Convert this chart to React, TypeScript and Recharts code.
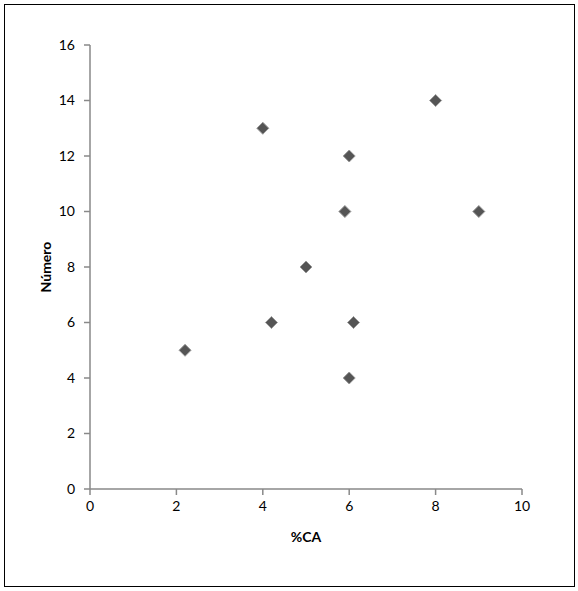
import { ScatterChart, Scatter, XAxis, YAxis } from 'recharts'

const pctCA = [2.2, 4, 4.2, 5, 5.9, 6, 6, 6.1, 8, 9]
const numero = [5, 13, 6, 8, 10, 12, 4, 6, 14, 10]
const xTicks = [0, 2, 4, 6, 8, 10]
const yTicks = [0, 2, 4, 6, 8, 10, 12, 14, 16]

const points = pctCA.map((x, i) => ({ x, y: numero[i] }))

const FONT = 'Lato, "Open Sans", sans-serif'

// rombo como en Excel
const Diamond = (props: any) => {
  const { cx, cy } = props
  const r = 6
  return (
    <polygon
      points={`${cx},${cy - r} ${cx + r},${cy} ${cx},${cy + r} ${cx - r},${cy}`}
      fill="#555555"
      stroke="#9a9a9a"
      strokeWidth={1}
    />
  )
}

export default function App() {
  return (
    <div style={{ position: 'absolute', left: 0, top: 0, width: 578, height: 591, background: '#fff' }}>
      <div
        style={{
          position: 'absolute',
          left: 4,
          top: 4,
          width: 569,
          height: 581,
          border: '1px solid #000',
        }}
      />
      <ScatterChart
        width={578}
        height={591}
        margin={{ top: 45, right: 56, bottom: 6, left: 30 }}
        style={{ position: 'absolute', left: 0, top: 0, fontFamily: FONT }}
      >
        <XAxis
          type="number"
          dataKey="x"
          domain={[0, 10]}
          ticks={xTicks}
          height={96}
          stroke="#898989"
          strokeWidth={1.5}
          tickSize={6}
          tickMargin={6}
          tick={{ fill: '#000', fontSize: 14 }}
          label={{ value: '%CA', position: 'center', fill: '#000', fontSize: 14, fontWeight: 'bold' }}
        />
        <YAxis
          type="number"
          dataKey="y"
          domain={[0, 16]}
          ticks={yTicks}
          width={60}
          stroke="#898989"
          strokeWidth={1.5}
          tickSize={6}
          tickMargin={9}
          tick={{ fill: '#000', fontSize: 14 }}
          label={{ value: 'Número', angle: -90, position: 'center', dx: -14, fill: '#000', fontSize: 14, fontWeight: 'bold' }}
        />
        <Scatter data={points} shape={<Diamond />} isAnimationActive={false} />
      </ScatterChart>
    </div>
  )
}
